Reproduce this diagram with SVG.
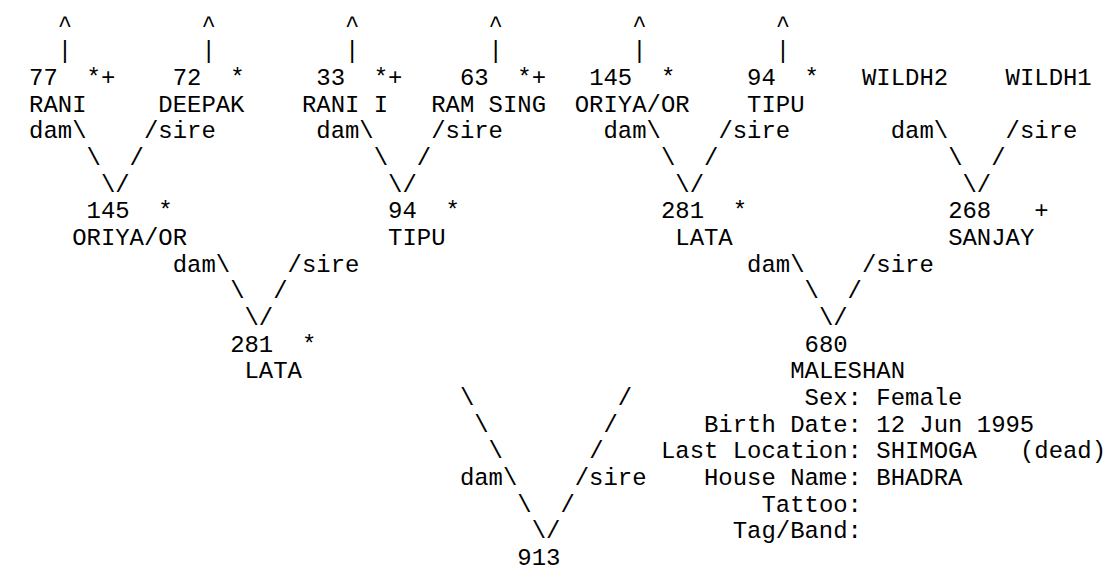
<svg xmlns="http://www.w3.org/2000/svg" width="1113" height="586" viewBox="0 0 1113 586">
<style>
text { font-family: "Liberation Mono", "Courier New", monospace; font-size: 23.93px; fill: #000; }
</style>
<rect width="1113" height="586" fill="#fff"/>
<g id="connectors">
  <!-- carets and pipes -->
  <text x="57.82" y="31.7">^</text><text x="57.82" y="58.37">|</text>
  <text x="201.42" y="31.7">^</text><text x="201.42" y="58.37">|</text>
  <text x="345.02" y="31.7">^</text><text x="345.02" y="58.37">|</text>
  <text x="488.62" y="31.7">^</text><text x="488.62" y="58.37">|</text>
  <text x="632.22" y="31.7">^</text><text x="632.22" y="58.37">|</text>
  <text x="775.82" y="31.7">^</text><text x="775.82" y="58.37">|</text>
  <!-- gen 3 -> gen 2 junctions -->
  <text x="29.1" y="138.38">dam\</text><text x="143.98" y="138.38">/sire</text>
  <text x="86.54" y="165.05">\</text><text x="129.62" y="165.05">/</text>
  <text x="100.9" y="191.72">\/</text>
  <text x="316.3" y="138.38">dam\</text><text x="431.18" y="138.38">/sire</text>
  <text x="373.74" y="165.05">\</text><text x="416.82" y="165.05">/</text>
  <text x="388.1" y="191.72">\/</text>
  <text x="603.5" y="138.38">dam\</text><text x="718.38" y="138.38">/sire</text>
  <text x="660.94" y="165.05">\</text><text x="704.02" y="165.05">/</text>
  <text x="675.3" y="191.72">\/</text>
  <text x="890.7" y="138.38">dam\</text><text x="1005.58" y="138.38">/sire</text>
  <text x="948.14" y="165.05">\</text><text x="991.22" y="165.05">/</text>
  <text x="962.5" y="191.72">\/</text>
  <!-- gen 2 -> gen 1 junctions -->
  <text x="172.7" y="271.73">dam\</text><text x="287.58" y="271.73">/sire</text>
  <text x="230.14" y="298.4">\</text><text x="273.22" y="298.4">/</text>
  <text x="244.5" y="325.07">\/</text>
  <text x="747.1" y="271.73">dam\</text><text x="861.98" y="271.73">/sire</text>
  <text x="804.54" y="298.4">\</text><text x="847.62" y="298.4">/</text>
  <text x="818.9" y="325.07">\/</text>
  <!-- gen 1 -> subject -->
  <text x="459.9" y="405.08">\</text><text x="617.86" y="405.08">/</text>
  <text x="474.26" y="431.75">\</text><text x="603.5" y="431.75">/</text>
  <text x="488.62" y="458.42">\</text><text x="589.14" y="458.42">/</text>
  <text x="459.9" y="485.09">dam\</text><text x="574.78" y="485.09">/sire</text>
  <text x="517.34" y="511.76">\</text><text x="560.42" y="511.76">/</text>
  <text x="531.7" y="538.43">\/</text>
</g>
<g id="node-77">
  <text x="29.1" y="85.04">77</text><text x="86.54" y="85.04">*+</text>
  <text x="29.1" y="111.71">RANI</text>
</g>
<g id="node-72">
  <text x="172.7" y="85.04">72</text><text x="230.14" y="85.04">*</text>
  <text x="158.34" y="111.71">DEEPAK</text>
</g>
<g id="node-33">
  <text x="316.3" y="85.04">33</text><text x="373.74" y="85.04">*+</text>
  <text x="301.94" y="111.71">RANI I</text>
</g>
<g id="node-63">
  <text x="459.9" y="85.04">63</text><text x="517.34" y="85.04">*+</text>
  <text x="431.18" y="111.71">RAM SING</text>
</g>
<g id="node-145-top">
  <text x="589.14" y="85.04">145</text><text x="660.94" y="85.04">*</text>
  <text x="574.78" y="111.71">ORIYA/OR</text>
</g>
<g id="node-94-top">
  <text x="747.1" y="85.04">94</text><text x="804.54" y="85.04">*</text>
  <text x="747.1" y="111.71">TIPU</text>
</g>
<g id="node-wildh2">
  <text x="861.98" y="85.04">WILDH2</text>
</g>
<g id="node-wildh1">
  <text x="1005.58" y="85.04">WILDH1</text>
</g>
<g id="node-145">
  <text x="86.54" y="218.39">145</text><text x="158.34" y="218.39">*</text>
  <text x="72.18" y="245.06">ORIYA/OR</text>
</g>
<g id="node-94">
  <text x="388.1" y="218.39">94</text><text x="445.54" y="218.39">*</text>
  <text x="388.1" y="245.06">TIPU</text>
</g>
<g id="node-281-right">
  <text x="660.94" y="218.39">281</text><text x="732.74" y="218.39">*</text>
  <text x="675.3" y="245.06">LATA</text>
</g>
<g id="node-268">
  <text x="948.14" y="218.39">268</text><text x="1034.3" y="218.39">+</text>
  <text x="948.14" y="245.06">SANJAY</text>
</g>
<g id="node-281">
  <text x="230.14" y="351.74">281</text><text x="301.94" y="351.74">*</text>
  <text x="244.5" y="378.41">LATA</text>
</g>
<g id="node-680">
  <text x="804.54" y="351.74">680</text>
  <text x="790.18" y="378.41">MALESHAN</text>
  <text x="804.54" y="405.08">Sex: Female</text>
  <text x="704.02" y="431.75">Birth Date: 12 Jun 1995</text>
  <text x="660.94" y="458.42">Last Location: SHIMOGA</text><text x="1019.94" y="458.42">(dead)</text>
  <text x="704.02" y="485.09">House Name: BHADRA</text>
  <text x="761.46" y="511.76">Tattoo:</text>
  <text x="732.74" y="538.43">Tag/Band:</text>
</g>
<g id="node-913">
  <text x="517.34" y="565.1">913</text>
</g>
</svg>
